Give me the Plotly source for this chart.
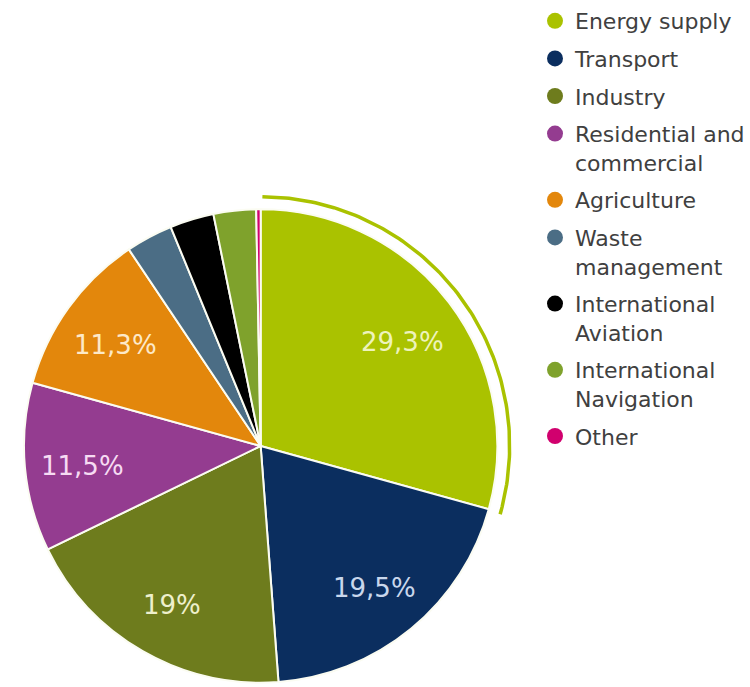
import plotly.graph_objects as go
import math

# Share of emissions by sector (%)
sectors = ["Energy supply", "Transport", "Industry", "Residential and commercial",
           "Agriculture", "Waste management", "International Aviation",
           "International Navigation", "Other"]
legend_names = ["Energy supply", "Transport", "Industry", "Residential and<br>commercial",
                "Agriculture", "Waste<br>management", "International<br>Aviation",
                "International<br>Navigation", "Other"]
shares = [29.3, 19.5, 19.0, 11.5, 11.3, 3.2, 3.0, 2.9, 0.3]
share_labels = ["29,3%", "19,5%", "19%", "11,5%", "11,3%", "", "", "", ""]

colors = ["#aac200", "#0b2e5f", "#6e7c1d", "#943c90", "#e3870c",
          "#4b6d85", "#000000", "#7fa22c", "#d1006e"]
label_colors = ["#eef3bc", "#c9d7ec", "#eef0cc", "#f6dbf3", "#fde9c8",
                "#ffffff", "#ffffff", "#ffffff", "#ffffff"]

W, H = 750, 687
cx, cy, r = 261, 446, 237          # pie centre and radius in pixels
label_r = 0.755                    # radial position of the percentage labels

fig = go.Figure()

fig.add_trace(go.Pie(
    labels=sectors,
    values=shares,
    textinfo="none",
    sort=False,
    direction="clockwise",
    rotation=0,
    marker=dict(colors=colors, line=dict(color="#fbfcf2", width=2)),
    domain=dict(x=[(cx - r) / W, (cx + r) / W],
                y=[(H - cy - r) / H, (H - cy + r) / H]),
    showlegend=False,
    hoverinfo="label+percent",
))

total = sum(shares)

# Highlight arc around the largest sector
arc_r = 1.052
end_deg = shares[0] / total * 360
n = 120
ax, ay = [], []
for i in range(n + 1):
    a = math.radians(0.4 + end_deg * i / n)
    ax.append(arc_r * math.sin(a))
    ay.append(arc_r * math.cos(a))
fig.add_trace(go.Scatter(x=ax, y=ay, mode="lines",
                         line=dict(color=colors[0], width=3.5),
                         showlegend=False, hoverinfo="skip"))

# Percentage labels at the middle of each slice
cum = 0.0
for val, txt, tcol in zip(shares, share_labels, label_colors):
    mid = math.radians((cum + val / 2) / total * 360)
    cum += val
    if not txt:
        continue
    fig.add_annotation(x=label_r * math.sin(mid), y=label_r * math.cos(mid),
                       xref="x", yref="y", text=txt, showarrow=False, yshift=-4,
                       font=dict(family="DejaVu Sans", size=26, color=tcol))

# Legend entries with round markers
for name, col in zip(legend_names, colors):
    fig.add_trace(go.Scatter(x=[None], y=[None], mode="markers", name=name,
                             legendgroup=name,
                             marker=dict(symbol="circle", size=18, color=col)))

fig.update_layout(
    width=W, height=H,
    margin=dict(l=0, r=0, t=0, b=0),
    paper_bgcolor="white",
    plot_bgcolor="white",
    xaxis=dict(range=[-cx / r, (W - cx) / r], visible=False, domain=[0, 1], fixedrange=True),
    yaxis=dict(range=[-(H - cy) / r, cy / r], visible=False, domain=[0, 1], fixedrange=True),
    legend=dict(
        x=536 / W, y=1, xanchor="left", yanchor="top",
        font=dict(family="DejaVu Sans", size=22, color="#404040"),
        valign="top",
        tracegroupgap=6,
        bgcolor="rgba(0,0,0,0)",
    ),
)

fig.write_html("out.html")
